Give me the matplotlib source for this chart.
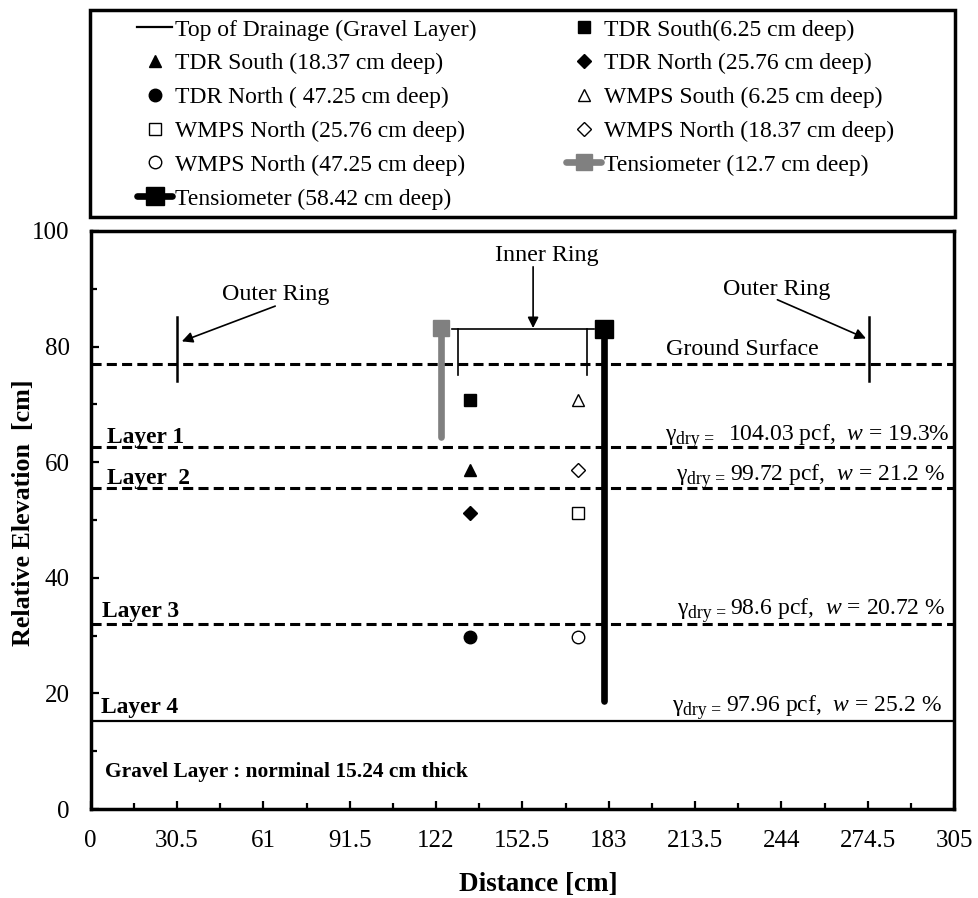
import numpy as np
import matplotlib
matplotlib.use("Agg")
import matplotlib.pyplot as plt
import matplotlib.patches as mpatches
from matplotlib.transforms import IdentityTransform

plt.rcParams['font.family'] = ['Liberation Serif', 'DejaVu Serif']
plt.rcParams['mathtext.fontset'] = 'custom'
plt.rcParams['mathtext.rm'] = 'Liberation Serif'
plt.rcParams['mathtext.it'] = 'Liberation Serif:italic'
plt.rcParams['mathtext.bf'] = 'Liberation Serif:bold'

# ---- data ----
x_ticks = [0, 30.5, 61, 91.5, 122, 152.5, 183, 213.5, 244, 274.5, 305]
x_tick_labels = ['0', '30.5', '61', '91.5', '122', '152.5', '183', '213.5', '244', '274.5', '305']
y_ticks = [0, 20, 40, 60, 80, 100]

# layer boundaries (dashed) and top of the gravel layer (solid)
boundary_elev = [77.0, 62.7, 55.5, 32.0]
gravel_top = 15.24

# sensors: x position and elevation
tdr_x = 134.0
wmps_x = 172.0
tdr_south_625 = 70.75
tdr_south_1837 = 58.63
tdr_north_2576 = 51.24
tdr_north_4725 = 29.75
wmps_south_625 = 70.75
wmps_north_2576 = 51.24
wmps_north_1837 = 58.63
wmps_north_4725 = 29.75

tens_127_x = [123.8, 123.8]
tens_127_y = [83.2, 64.3]
tens_5842_x = [181.5, 181.5]
tens_5842_y = [83.0, 18.6]

# rings
outer_ring_x = [30.6, 275.1]
outer_ring_y = [74.0, 85.2]
inner_ring_x = [127.7, 177.8]
inner_ring_top = 83.0
inner_ring_legs = [129.8, 175.4]
inner_ring_bottom = 75.1

layer_names = ['Layer 1', 'Layer  2', 'Layer 3', 'Layer 4']
layer_label_x = [5.9, 5.8, 3.9, 3.6]
layer_label_y = [63.3, 56.2, 33.2, 16.6]

soil_props = ['104.03 pcf,  $w$ = 19.3%',
              '99.72 pcf,  $w$ = 21.2 %',
              '98.6 pcf,  $w$ = 20.72 %',
              '97.96 pcf,  $w$ = 25.2 %']
soil_props_x = [303.6, 301.9, 301.9, 300.8]
soil_props_y = [63.9, 56.9, 33.8, 17.0]
soil_gap_px = [14, 5, 4, 5]

fig = plt.figure(figsize=(9.79, 8.98), dpi=100)
ax = fig.add_axes([0.0926, 0.0991, 0.8819, 0.6437])

dash = (3.3, 1.7)
for yv in boundary_elev:
    ax.plot([0, 305], [yv, yv], color='black', lw=2.2, dashes=dash, zorder=2)
h_gravel, = ax.plot([0, 305], [gravel_top, gravel_top], color='black', lw=1.6, zorder=2,
                    label='Top of Drainage (Gravel Layer)')

ms = 9
h1, = ax.plot([tdr_x], [tdr_south_625], 's', color='black', ms=ms, ls='none', zorder=4,
              label='TDR South(6.25 cm deep)')
h2, = ax.plot([tdr_x], [tdr_south_1837], '^', color='black', ms=ms, ls='none', zorder=4,
              label='TDR South (18.37 cm deep)')
h3, = ax.plot([tdr_x], [tdr_north_2576], 'D', color='black', ms=6.8, ls='none', zorder=4,
              label='TDR North (25.76 cm deep)')
h4, = ax.plot([tdr_x], [tdr_north_4725], 'o', color='black', ms=ms, ls='none', zorder=4,
              label='TDR North ( 47.25 cm deep)')
h5, = ax.plot([wmps_x], [wmps_south_625], '^', mfc='white', mec='black', mew=1.0, ms=ms,
              ls='none', zorder=4, label='WMPS South (6.25 cm deep)')
h6, = ax.plot([wmps_x], [wmps_north_2576], 's', mfc='white', mec='black', mew=1.0, ms=ms,
              ls='none', zorder=4, label='WMPS North (25.76 cm deep)')
h7, = ax.plot([wmps_x], [wmps_north_1837], 'D', mfc='white', mec='black', mew=1.0, ms=6.8,
              ls='none', zorder=4, label='WMPS North (18.37 cm deep)')
h8, = ax.plot([wmps_x], [wmps_north_4725], 'o', mfc='white', mec='black', mew=1.0, ms=ms,
              ls='none', zorder=4, label='WMPS North (47.25 cm deep)')

h9, = ax.plot(tens_127_x, tens_127_y, color='#808080', lw=4.8, marker='s', ms=11,
              markevery=[0], solid_capstyle='round', zorder=3, label='Tensiometer (12.7 cm deep)')
h10, = ax.plot(tens_5842_x, tens_5842_y, color='black', lw=4.8, marker='s', ms=13,
               markevery=[0], solid_capstyle='round', zorder=3, label='Tensiometer (58.42 cm deep)')

# outer ring marks and inner ring bracket
for xv in outer_ring_x:
    ax.plot([xv, xv], outer_ring_y, color='black', lw=1.8, zorder=3)
ax.plot(inner_ring_x, [inner_ring_top, inner_ring_top], color='black', lw=1.2, zorder=3)
for xv in inner_ring_legs:
    ax.plot([xv, xv], [inner_ring_top, inner_ring_bottom], color='black', lw=1.2, zorder=3)

arrow = dict(arrowstyle='-|>', color='black', lw=1.2, mutation_scale=16, shrinkA=0, shrinkB=0)
ax.annotate('', xy=(156.3, 83.2), xytext=(156.3, 93.8), arrowprops=arrow)
ax.text(161, 95.8, 'Inner Ring', ha='center', va='center', fontsize=17.3)
ax.annotate('', xy=(32.2, 80.9), xytext=(65.2, 87.0), arrowprops=arrow)
ax.text(65.4, 89.0, 'Outer Ring', ha='center', va='center', fontsize=17.3)
ax.annotate('', xy=(273.9, 81.4), xytext=(242.6, 88.1), arrowprops=arrow)
ax.text(242.4, 89.9, 'Outer Ring', ha='center', va='center', fontsize=17.3)
ax.text(230.4, 78.5, 'Ground Surface', ha='center', va='baseline', fontsize=17.3)

for name, lx, ly in zip(layer_names, layer_label_x, layer_label_y):
    ax.text(lx, ly, name, fontsize=16.9, fontweight='bold', va='baseline', ha='left')
ax.text(5.1, 5.6, 'Gravel Layer : norminal 15.24 cm thick', fontsize=15.4,
        fontweight='bold', va='baseline', ha='left')

ax.set_xlim(0, 305)
ax.set_ylim(0, 100)
ax.set_xticks(x_ticks)
ax.set_xticklabels(x_tick_labels)
ax.set_xticks(np.arange(15.25, 305, 30.5), minor=True)
ax.set_yticks(y_ticks)
ax.set_yticks([10, 30, 50, 70, 90], minor=True)
ax.tick_params(which='both', direction='in', width=1.6, labelsize=18, top=False, right=False)
ax.tick_params(which='major', length=6, pad=15)
ax.tick_params(which='minor', length=4)
for s in ax.spines.values():
    s.set_linewidth(2.5)

ax.set_xlabel('Distance [cm]', fontsize=19.5, fontweight='bold')
ax.xaxis.set_label_coords(0.519, -0.1085)
ax.set_ylabel('Relative Elevation  [cm]', fontsize=18.7, fontweight='bold')
ax.yaxis.set_label_coords(-0.0645, 0.512)

# soil property notes: main text, then "dry =" subscript, then gamma
main_texts = []
for t, tx, ty in zip(soil_props, soil_props_x, soil_props_y):
    main_texts.append(ax.text(tx, ty, t, ha='right', va='baseline', fontsize=17))
fig.canvas.draw()
renderer = fig.canvas.get_renderer()
sub_texts = []
for mt, ty, gap in zip(main_texts, soil_props_y, soil_gap_px):
    x0 = mt.get_window_extent(renderer).x0
    yb = ax.transData.transform((0, ty))[1]
    sub_texts.append(ax.text(x0 - gap, yb - 4, 'dry =', ha='right', va='baseline',
                             fontsize=12.8, transform=IdentityTransform()))
fig.canvas.draw()
for st, ty in zip(sub_texts, soil_props_y):
    x0 = st.get_window_extent(renderer).x0
    yb = ax.transData.transform((0, ty))[1]
    ax.text(x0 - 0.5, yb, 'γ', ha='right', va='baseline', fontsize=17,
            transform=IdentityTransform())

# legend box above the plot, two columns in row order
left_col = [h_gravel, h2, h4, h6, h8, h10]
right_col = [h1, h3, h5, h7, h9]
leg_kw = dict(frameon=False, fontsize=17, handlelength=1.5, handletextpad=0.12,
              labelspacing=0.52, borderpad=0, borderaxespad=0, loc='upper left')
fig.legend(handles=left_col, bbox_to_anchor=(137 / 979, 1 - 19 / 898), **leg_kw)
fig.legend(handles=right_col, bbox_to_anchor=(566 / 979, 1 - 19 / 898), **leg_kw)
frame = mpatches.Rectangle((90 / 979, 1 - 216.7 / 898), 865 / 979, 206.7 / 898,
                           transform=fig.transFigure, fill=False, lw=2.5, edgecolor='black')
fig.add_artist(frame)

fig.savefig('out.png', dpi=100)
